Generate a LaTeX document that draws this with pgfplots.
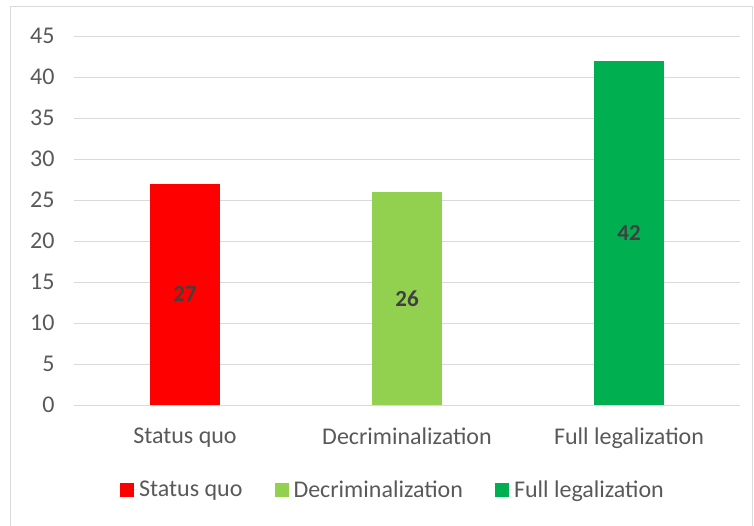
\documentclass[border=0pt]{standalone}
\usepackage{fontspec}
\setmainfont{Carlito}
\usepackage{pgfplots}
\pgfplotsset{compat=1.18}
\definecolor{sq}{HTML}{FF0000}
\definecolor{dc}{HTML}{92D050}
\definecolor{fl}{HTML}{00B050}
\definecolor{tickc}{HTML}{595959}
\definecolor{gridc}{HTML}{D9D9D9}
\definecolor{labc}{HTML}{404040}
\begin{document}
\begin{tikzpicture}[x=1pt,y=1pt]
\useasboundingbox (0,0) rectangle (754,525);
\draw[gridc, line width=1pt] (10,-5) rectangle (752,518);
\begin{axis}[
  at={(74pt,120pt)}, anchor=south west,
  scale only axis, width=666pt, height=369pt,
  xmin=-0.5, xmax=2.5, ymin=0, ymax=45,
  ytick={0,5,...,45}, xtick={0,1,2},
  xticklabels={Status quo,Decriminalization,Full legalization},
  axis line style={draw=none},
  major tick length=0pt,
  ymajorgrids, grid style={gridc, line width=1pt},
  /pgf/number format/assume math mode=true,
  tick label style={font=\fontsize{24}{28}\selectfont, text=tickc},
  yticklabel style={xshift=-16pt},
  xticklabel style={yshift=-19pt},
  ybar, bar width=70pt, bar shift=0pt,
  visualization depends on={y \as \rawy},
  nodes near coords,
  every node near coord/.append style={anchor=center, font=\fontsize{23}{27}\selectfont\bfseries, text=labc, shift={(axis direction cs:0,-\rawy/2)}},
  legend columns=3,
  legend style={at={(0.479,-0.23)}, anchor=center, draw=none, fill=none, font=\fontsize{24}{28}\selectfont, text=tickc,
    /tikz/every even column/.append style={column sep=30pt}},
  legend image code/.code={\fill[#1] (0pt,-7pt) rectangle (14pt,7pt); \path (0pt,0pt) -- (17pt,0pt);},
]
\addplot[fill=sq, draw=none] coordinates {(0,27)};
\addlegendentry{Status quo}
\addplot[fill=dc, draw=none] coordinates {(1,26)};
\addlegendentry{Decriminalization}
\addplot[fill=fl, draw=none] coordinates {(2,42)};
\addlegendentry{Full legalization}
\end{axis}
\end{tikzpicture}
\end{document}
